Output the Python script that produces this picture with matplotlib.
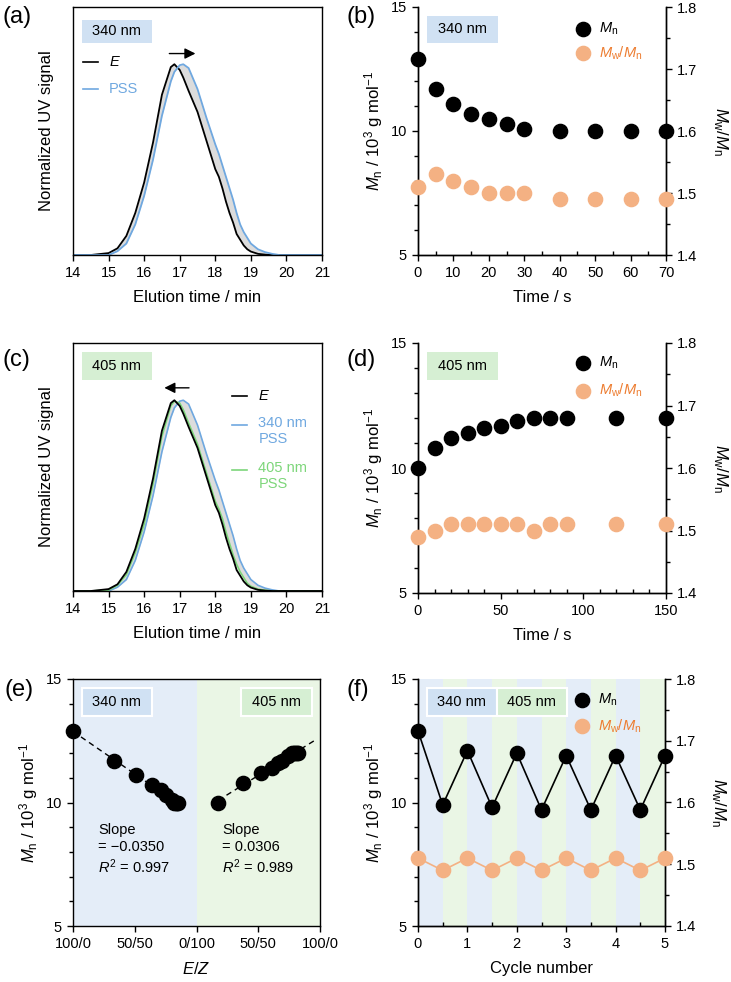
import numpy as np
import matplotlib
matplotlib.use("Agg")
import matplotlib.pyplot as plt
from matplotlib.patches import Rectangle
from matplotlib.ticker import MultipleLocator, FormatStrFormatter

plt.rcParams["font.family"] = ["Liberation Sans", "DejaVu Sans"]
plt.rcParams["mathtext.fontset"] = "custom"
plt.rcParams["mathtext.rm"] = "Liberation Sans"
plt.rcParams["mathtext.it"] = "Liberation Sans:italic"
plt.rcParams["mathtext.bf"] = "Liberation Sans:bold"
plt.rcParams["axes.linewidth"] = 1.0

# ---- SEC traces (normalized UV signal vs elution time / min) ----
elution_t = [14.0, 14.5, 15.0, 15.25, 15.5, 15.75, 16.0, 16.25, 16.5, 16.75, 16.85,
             17.0, 17.1, 17.25, 17.5, 17.75, 18.0, 18.1, 18.2, 18.3, 18.4, 18.5,
             18.6, 18.7, 18.8, 18.9, 19.0, 19.2, 19.4, 19.6, 19.8, 20.0, 21.0]
sig_E = [0.0, 0.0, 0.01, 0.035, 0.10, 0.22, 0.38, 0.59, 0.84, 0.985, 1.0,
         0.97, 0.93, 0.86, 0.75, 0.60, 0.45, 0.41, 0.35, 0.28, 0.22, 0.17,
         0.11, 0.08, 0.05, 0.03, 0.018, 0.006, 0.002, 0.0, 0.0, 0.0, 0.0]
sig_pss340 = [0.0, 0.0, 0.0, 0.02, 0.06, 0.16, 0.31, 0.50, 0.73, 0.91, 0.96,
              0.995, 1.0, 0.98, 0.87, 0.72, 0.58, 0.53, 0.47, 0.41, 0.35, 0.29,
              0.22, 0.16, 0.12, 0.09, 0.06, 0.03, 0.015, 0.006, 0.0, 0.0, 0.0]
sig_pss405 = [0.0, 0.0, 0.005, 0.03, 0.085, 0.20, 0.35, 0.56, 0.81, 0.97, 0.995,
              0.985, 0.95, 0.88, 0.77, 0.62, 0.47, 0.43, 0.38, 0.31, 0.25, 0.19,
              0.14, 0.10, 0.07, 0.04, 0.025, 0.01, 0.004, 0.0, 0.0, 0.0, 0.0]

# ---- kinetics under 340 nm ----
time_340 = [0, 5, 10, 15, 20, 25, 30, 40, 50, 60, 70]
mn_340 = [12.9, 11.7, 11.1, 10.7, 10.5, 10.3, 10.1, 10.0, 10.0, 10.0, 10.0]
pdi_340 = [1.51, 1.53, 1.52, 1.51, 1.50, 1.50, 1.50, 1.49, 1.49, 1.49, 1.49]

# ---- kinetics under 405 nm ----
time_405 = [0, 10, 20, 30, 40, 50, 60, 70, 80, 90, 120, 150]
mn_405 = [10.0, 10.8, 11.2, 11.4, 11.6, 11.7, 11.9, 12.0, 12.0, 12.0, 12.0, 12.0]
pdi_405 = [1.49, 1.50, 1.51, 1.51, 1.51, 1.51, 1.51, 1.50, 1.51, 1.51, 1.51, 1.51]

# ---- Mn vs E/Z composition ----
z_pct_340 = [0, 33, 51, 64, 71, 75, 80, 82, 83, 84, 85]      # % Z reached at 340 nm
e_pct_405 = [17.6, 37.8, 51.9, 61, 66, 69, 74, 77, 79, 80, 81, 82]  # % E reached at 405 nm
slope_txt = ["Slope\n= \u22120.0350\n$R^2$ = 0.997", "Slope\n= 0.0306\n$R^2$ = 0.989"]
ez_ticks = [0, 50, 100, 150, 200]
ez_labels = ["100/0", "50/50", "0/100", "50/50", "100/0"]

# ---- switching cycles ----
cycle = [0, 0.5, 1, 1.5, 2, 2.5, 3, 3.5, 4, 4.5, 5]
mn_cycle = [12.9, 9.9, 12.1, 9.8, 12.0, 9.7, 11.9, 9.7, 11.9, 9.7, 11.9]
pdi_cycle = [1.51, 1.49, 1.51, 1.49, 1.51, 1.49, 1.51, 1.49, 1.51, 1.49, 1.51]

BLUE_LINE = "#6fa8e0"
GREEN_LINE = "#7dd67a"
GRAY_FILL = "#dcdcdc"
BOX_BLUE = "#d0e1f3"
BOX_GREEN = "#d6efd3"
BG_BLUE = "#e4edf8"
BG_GREEN = "#eaf6e5"
ORANGE_M = "#f4b183"
ORANGE_T = "#ed7d31"
FS_TICK = 10.5
FS_LAB = 12
FS_TXT = 10.5

MN_LABEL = r"$M_\mathrm{n}$ / 10$^3$ g mol$^{-1}$"
PDI_LABEL = r"$M_\mathrm{w}/M_\mathrm{n}$"

fig = plt.figure(figsize=(7.31, 9.82), dpi=100)
W, H = 731.0, 982.0


def add_axes_px(left, top, right, bottom):
    return fig.add_axes([left / W, 1 - bottom / H, (right - left) / W, (bottom - top) / H])


def tag_box(ax, x0, x1, y0, y1, color, label, edge="none"):
    ax.add_patch(Rectangle((x0, y0), x1 - x0, y1 - y0, transform=ax.transAxes,
                           facecolor=color, edgecolor=edge, lw=1.5, zorder=3, clip_on=False))
    ax.text((x0 + x1) / 2, (y0 + y1) / 2, label, transform=ax.transAxes,
            ha="center", va="center", fontsize=10.5, zorder=4)


def line_key(ax, x, y, color, label, dx=0.06):
    ax.plot([x, x + dx], [y, y], color=color, lw=1.2, transform=ax.transAxes, clip_on=False)
    ax.text(x + dx + 0.045, y, label, color=color, transform=ax.transAxes,
            ha="left", va="center", fontsize=FS_TXT, linespacing=1.15)


def marker_keys(ax, y1, y2, x=0.665):
    ax.scatter([x], [y1], s=105, color="black", transform=ax.transAxes, clip_on=False, zorder=5)
    ax.scatter([x], [y2], s=105, color=ORANGE_M, transform=ax.transAxes, clip_on=False, zorder=5)
    ax.text(x + 0.065, y1, r"$M_\mathrm{n}$", transform=ax.transAxes, ha="left", va="center",
            fontsize=FS_TXT)
    ax.text(x + 0.065, y2, PDI_LABEL, color=ORANGE_T, transform=ax.transAxes, ha="left",
            va="center", fontsize=FS_TXT)


def sec_axes(ax):
    ax.set_xlim(14, 21)
    ax.set_ylim(0, 1.3)
    ax.xaxis.set_major_locator(MultipleLocator(1))
    ax.set_yticks([])
    ax.tick_params(axis="x", direction="out", length=4, width=1, labelsize=FS_TICK, pad=4)
    ax.set_xlabel("Elution time / min", fontsize=FS_LAB, labelpad=7)
    ax.set_ylabel("Normalized UV signal", fontsize=FS_LAB)
    ax.yaxis.set_label_coords(-0.075, 0.5)


def mn_axes(ax, xmax, xmajor, xminor):
    ax.set_xlim(0, xmax)
    ax.set_ylim(5, 15)
    ax.xaxis.set_major_locator(MultipleLocator(xmajor))
    ax.xaxis.set_minor_locator(MultipleLocator(xminor))
    ax.yaxis.set_major_locator(MultipleLocator(5))
    ax.yaxis.set_minor_locator(MultipleLocator(1))
    ax.tick_params(which="major", direction="out", length=4, width=1, labelsize=FS_TICK, pad=4)
    ax.tick_params(which="minor", direction="out", length=3, width=1)
    ax.tick_params(axis="x", which="minor", direction="in")
    ax.set_ylabel(MN_LABEL, fontsize=FS_LAB)
    ax.yaxis.set_label_coords(-0.135, 0.5)
    ax.spines["top"].set_visible(False)
    ax2 = ax.twinx()
    ax2.set_ylim(1.4, 1.8)
    ax2.yaxis.set_major_locator(MultipleLocator(0.1))
    ax2.yaxis.set_minor_locator(MultipleLocator(0.05))
    ax2.yaxis.set_major_formatter(FormatStrFormatter("%.1f"))
    ax2.tick_params(which="major", direction="out", length=4, width=1, labelsize=FS_TICK, pad=4)
    ax2.tick_params(which="minor", direction="out", length=3, width=1)
    ax2.spines["top"].set_visible(False)
    ax2.set_ylabel(PDI_LABEL, fontsize=FS_LAB, rotation=270, va="bottom")
    ax2.yaxis.set_label_coords(1.18, 0.5)
    return ax2


# ---------------- (a) ----------------
ax_a = add_axes_px(73, 7, 322, 255)
ax_a.fill_between(elution_t, sig_E, sig_pss340, color=GRAY_FILL, lw=0)
ax_a.plot(elution_t, sig_E, color="black", lw=1.3)
ax_a.plot(elution_t, sig_pss340, color=BLUE_LINE, lw=1.3)
ax_a.annotate("", xy=(17.52, 1.056), xytext=(16.63, 1.056),
              arrowprops=dict(arrowstyle="-|>", color="black", lw=1.0, mutation_scale=16))
sec_axes(ax_a)
tag_box(ax_a, 0.036, 0.317, 0.855, 0.948, BOX_BLUE, "340 nm")
line_key(ax_a, 0.040, 0.778, "black", "$E$")
line_key(ax_a, 0.040, 0.669, BLUE_LINE, "PSS")

# ---------------- (b) ----------------
ax_b = add_axes_px(418, 7, 666, 255)
ax_b2 = mn_axes(ax_b, 70, 10, 5)
ax_b.scatter(time_340, mn_340, s=105, color="black", clip_on=False, zorder=4)
ax_b2.scatter(time_340, pdi_340, s=105, color=ORANGE_M, clip_on=False, zorder=4)
ax_b.set_xlabel("Time / s", fontsize=FS_LAB, labelpad=7)
tag_box(ax_b, 0.036, 0.323, 0.855, 0.964, BOX_BLUE, "340 nm")
marker_keys(ax_b2, 0.911, 0.815)

# ---------------- (c) ----------------
ax_c = add_axes_px(73, 343, 322, 591)
ax_c.fill_between(elution_t, sig_pss405, sig_pss340, color=GRAY_FILL, lw=0)
ax_c.plot(elution_t, sig_pss340, color=BLUE_LINE, lw=1.2)
ax_c.plot(elution_t, sig_pss405, color=GREEN_LINE, lw=1.2)
ax_c.plot(elution_t, sig_E, color="black", lw=1.3)
ax_c.annotate("", xy=(16.49, 1.065), xytext=(17.34, 1.065),
              arrowprops=dict(arrowstyle="-|>", color="black", lw=1.0, mutation_scale=16))
sec_axes(ax_c)
tag_box(ax_c, 0.036, 0.317, 0.851, 0.965, BOX_GREEN, "405 nm")
line_key(ax_c, 0.639, 0.786, "black", "$E$")
line_key(ax_c, 0.639, 0.669, BLUE_LINE, "340 nm\nPSS")
line_key(ax_c, 0.639, 0.488, GREEN_LINE, "405 nm\nPSS")
for t in ax_c.texts[-2:]:
    t.set_va("top")
    t.set_y(t.get_position()[1] + 0.035)

# ---------------- (d) ----------------
ax_d = add_axes_px(418, 343, 666, 593)
ax_d2 = mn_axes(ax_d, 150, 50, 10)
ax_d.scatter(time_405, mn_405, s=105, color="black", clip_on=False, zorder=4)
ax_d2.scatter(time_405, pdi_405, s=105, color=ORANGE_M, clip_on=False, zorder=4)
ax_d.set_xlabel("Time / s", fontsize=FS_LAB, labelpad=7)
tag_box(ax_d, 0.036, 0.323, 0.851, 0.965, BOX_GREEN, "405 nm")
marker_keys(ax_d2, 0.919, 0.81)

# ---------------- (e) ----------------
ax_e = add_axes_px(73, 679, 320, 926)
ax_e.axvspan(0, 100, color=BG_BLUE, lw=0, zorder=0)
ax_e.axvspan(100, 200, color=BG_GREEN, lw=0, zorder=0)
x_left = np.array(z_pct_340, dtype=float)
x_right = 100 + np.array(e_pct_405, dtype=float)
fit_l = np.polyfit(x_left, mn_340, 1)
fit_r = np.polyfit(x_right, mn_405, 1)
xl = np.array([x_left.min(), x_left.max()])
xr = np.array([x_right.min(), 196])
ax_e.plot(xl, np.polyval(fit_l, xl), ls=(0, (4, 3)), color="black", lw=1.0, zorder=2)
ax_e.plot(xr, np.polyval(fit_r, xr), ls=(0, (4, 3)), color="black", lw=1.0, zorder=2)
ax_e.scatter(x_left, mn_340, s=105, color="black", clip_on=False, zorder=4)
ax_e.scatter(x_right, mn_405, s=105, color="black", clip_on=False, zorder=4)
ax_e.set_xlim(0, 200)
ax_e.set_ylim(5, 15)
ax_e.set_xticks(ez_ticks)
ax_e.set_xticklabels(ez_labels)
ax_e.yaxis.set_major_locator(MultipleLocator(5))
ax_e.yaxis.set_minor_locator(MultipleLocator(1))
ax_e.tick_params(which="major", direction="out", length=4, width=1, labelsize=FS_TICK, pad=4)
ax_e.tick_params(which="minor", direction="out", length=3, width=1)
ax_e.set_xlabel("$E$/$Z$", fontsize=FS_LAB, labelpad=7)
ax_e.set_ylabel(MN_LABEL, fontsize=FS_LAB)
ax_e.yaxis.set_label_coords(-0.135, 0.5)
tag_box(ax_e, 0.036, 0.320, 0.851, 0.964, BOX_BLUE, "340 nm", edge="white")
tag_box(ax_e, 0.680, 0.968, 0.851, 0.964, BOX_GREEN, "405 nm", edge="white")
ax_e.text(0.102, 0.31, slope_txt[0], transform=ax_e.transAxes, ha="left", va="center",
          fontsize=FS_TXT, linespacing=1.25)
ax_e.text(0.603, 0.31, slope_txt[1], transform=ax_e.transAxes, ha="left", va="center",
          fontsize=FS_TXT, linespacing=1.25)

# ---------------- (f) ----------------
ax_f = add_axes_px(418, 679, 665, 926)
for i in range(len(cycle) - 1):
    ax_f.axvspan(cycle[i], cycle[i + 1], color=BG_BLUE if i % 2 == 0 else BG_GREEN, lw=0, zorder=0)
ax_f2 = mn_axes(ax_f, 5, 1, 0.5)
ax_f.plot(cycle, mn_cycle, color="black", lw=1.2, zorder=3)
ax_f.scatter(cycle, mn_cycle, s=105, color="black", clip_on=False, zorder=4)
ax_f2.plot(cycle, pdi_cycle, color=ORANGE_M, lw=1.2, zorder=3)
ax_f2.scatter(cycle, pdi_cycle, s=105, color=ORANGE_M, clip_on=False, zorder=4)
ax_f.set_xlabel("Cycle number", fontsize=FS_LAB, labelpad=7)
tag_box(ax_f2, 0.036, 0.32, 0.851, 0.964, BOX_BLUE, "340 nm", edge="white")
tag_box(ax_f2, 0.32, 0.603, 0.851, 0.964, BOX_GREEN, "405 nm", edge="white")
marker_keys(ax_f2, 0.915, 0.81)

# panel letters
for lab, x, y in [("(a)", 3, 17), ("(b)", 347, 17), ("(c)", 3, 360),
                  ("(d)", 347, 360), ("(e)", 5, 690), ("(f)", 347, 690)]:
    fig.text(x / W, 1 - y / H, lab, fontsize=17, ha="left", va="center")

fig.savefig("out.png", dpi=100)
